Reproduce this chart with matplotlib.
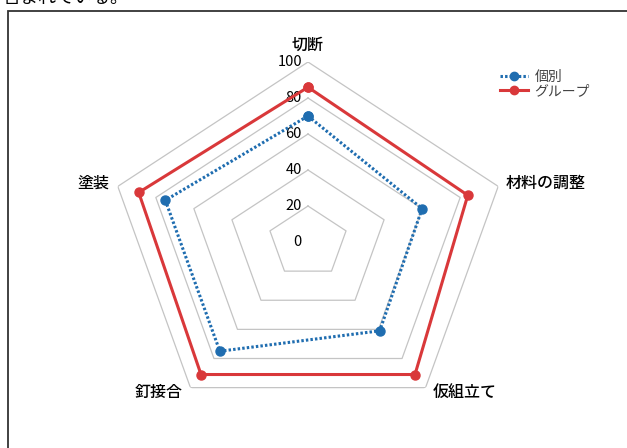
import numpy as np
import matplotlib
matplotlib.use('Agg')
from matplotlib import pyplot as plt
from matplotlib.lines import Line2D
from matplotlib.patches import Rectangle

plt.rcParams['font.family'] = ['Noto Sans CJK JP', 'DejaVu Sans']

# evaluation items and scores
categories = ['切断', '材料の調整', '仮組立て', '釘接合', '塗装']
kobetsu = [70, 60, 61, 75, 75]
group = [86, 84, 91, 91, 89]
levels = [20, 40, 60, 80, 100]
tick_values = [0, 20, 40, 60, 80, 100]

blue = '#1f6db0'
red = '#d9383a'
grid_col = '#c4c4c4'

W, H = 627, 448
fig = plt.figure(figsize=(W / 100., H / 100.), dpi=100)

# outer frame and cut-off text line above it
fig.patches.append(Rectangle((8. / W, -0.1), 1.2, 1 - 11. / H + 0.1,
                             transform=fig.transFigure, fill=False,
                             edgecolor='#333333', linewidth=1.3))
fig.text(2. / W, 1 - 3. / H, '含まれている。', fontsize=13, va='baseline', ha='left')

# polar axes stretched wider than tall
cx, cy, rx, ry = 308., 242., 200., 180.
ax = fig.add_axes([(cx - rx) / W, (H - cy - ry) / H, 2 * rx / W, 2 * ry / H],
                  projection='polar')
ax.set_aspect('auto')
ax.set_theta_zero_location('N')
ax.set_theta_direction(-1)
ax.set_ylim(0, 100)
ax.grid(False)
ax.spines['polar'].set_visible(False)
ax.set_xticks([])
ax.set_yticks([])
ax.patch.set_alpha(0)

n = len(categories)
theta = np.arange(n) * 2 * np.pi / n
theta_c = np.append(theta, theta[0])

for lv in levels:
    ax.plot(theta_c, [lv] * (n + 1), color=grid_col, lw=0.9, zorder=1)

for tv in tick_values:
    ax.annotate(str(tv), (0, tv), xytext=(-6, 0), textcoords='offset pixels',
                ha='right', va='center', fontsize=10.5, color='black')

offsets = [((0, 17), 'center'), ((7, 3), 'left'), ((7, -5), 'left'),
           ((-8, -5), 'right'), ((-8, 3), 'right')]
for t, lab, (off, ha) in zip(theta, categories, offsets):
    ax.annotate(lab, (t, 100), xytext=off, textcoords='offset pixels',
                ha=ha, va='center', fontsize=11.5, color='black', weight='medium')

ax.plot(theta_c, group + group[:1], color=red, lw=2.2, marker='o', ms=6.5, zorder=3)
ax.plot(theta_c, kobetsu + kobetsu[:1], color=blue, lw=2.2, ls=(0, (0.8, 0.7)),
        marker='o', ms=6.5, zorder=4)

handles = [Line2D([], [], color=blue, lw=2.2, ls=(0, (0.8, 0.7)), marker='o', ms=6),
           Line2D([], [], color=red, lw=2.2, marker='o', ms=6)]
leg = fig.legend(handles, ['個別', 'グループ'], loc='upper left',
                 bbox_to_anchor=(493. / W, 1 - 63. / H), frameon=False,
                 handlelength=2.0, handletextpad=0.5, borderpad=0,
                 labelspacing=0.0, fontsize=10)
for txt in leg.get_texts():
    txt.set_color('#404040')

fig.savefig('out.png', dpi=100)
